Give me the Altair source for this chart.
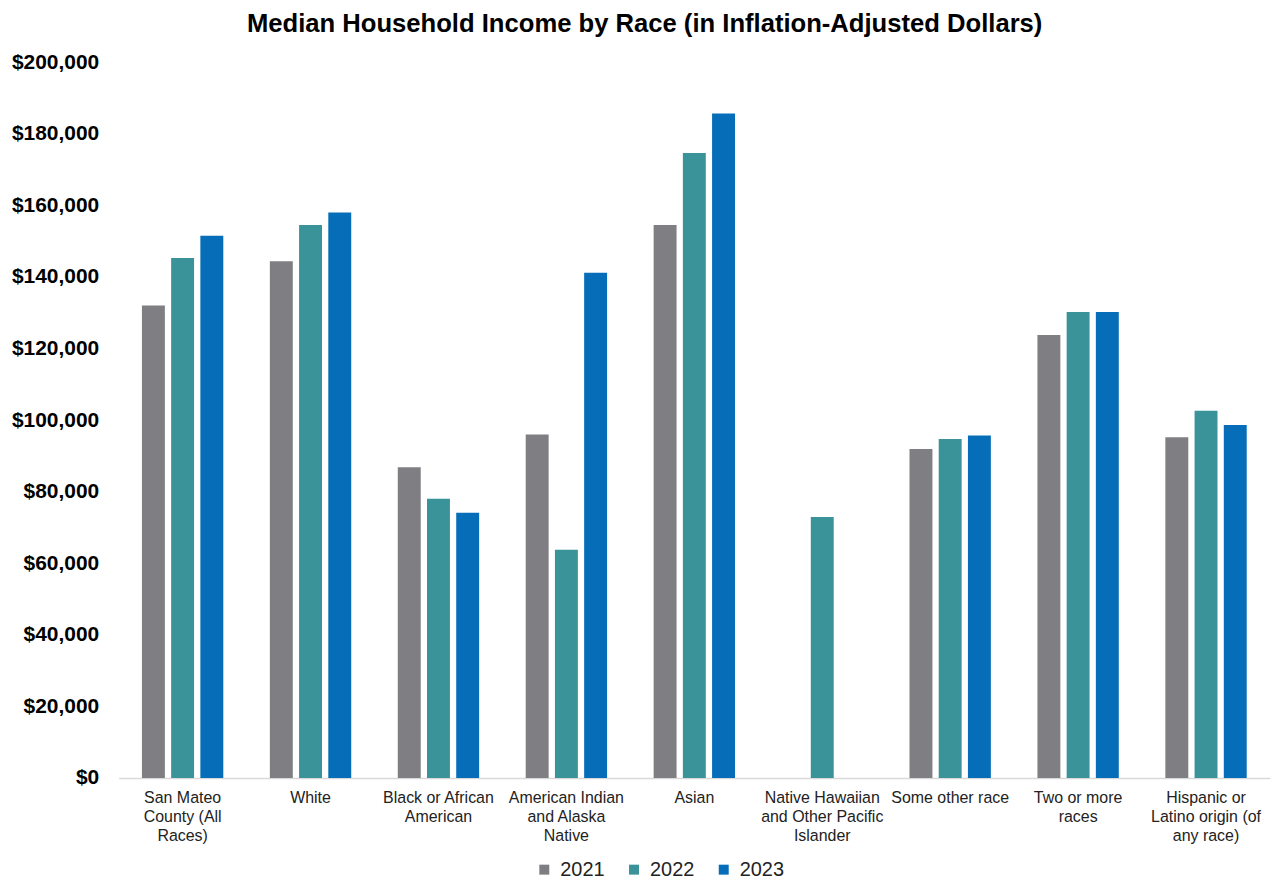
import altair as alt
import pandas as pd

categories = [
    "San Mateo County (All Races)",
    "White",
    "Black or African American",
    "American Indian and Alaska Native",
    "Asian",
    "Native Hawaiian and Other Pacific Islander",
    "Some other race",
    "Two or more races",
    "Hispanic or Latino origin (of any race)",
]
label_lines = [
    ["San Mateo", "County (All", "Races)"],
    ["White"],
    ["Black or African", "American"],
    ["American Indian", "and Alaska", "Native"],
    ["Asian"],
    ["Native Hawaiian", "and Other Pacific", "Islander"],
    ["Some other race"],
    ["Two or more", "races"],
    ["Hispanic or", "Latino origin (of", "any race)"],
]
years = ["2021", "2022", "2023"]
income_2021 = [132000, 144400, 86800, 96000, 154500, None, 91900, 123800, 95200]
income_2022 = [145300, 154500, 78000, 63800, 174600, 72900, 94700, 130200, 102600]
income_2023 = [151500, 158000, 74100, 141200, 185700, None, 95700, 130200, 98600]
colors = ["#7F7F83", "#3A9398", "#066EB8"]
y_ticks = list(range(0, 200001, 20000))

rows = []
for yr, vals in zip(years, [income_2021, income_2022, income_2023]):
    for c, v in zip(categories, vals):
        if v is not None:
            rows.append({"category": c, "year": yr, "income": v})
df = pd.DataFrame(rows)

expr = "''"
for c, lines in reversed(list(zip(categories, label_lines))):
    arr = "[" + ",".join("'" + l + "'" for l in lines) + "]"
    expr = f"datum.value == '{c}' ? {arr} : ({expr})"

FONT = "Liberation Sans"

chart = alt.Chart(df).mark_bar().encode(
    x=alt.X(
        "category:N",
        sort=categories,
        scale=alt.Scale(paddingInner=0.364, paddingOuter=0.182),
        axis=alt.Axis(
            title=None,
            labelAngle=0,
            labelExpr=expr,
            labelFont=FONT,
            labelFontSize=16,
            labelColor="#222222",
            labelLineHeight=19,
            labelPadding=12,
            labelBaseline="top",
            labelLimit=300,
            ticks=False,
            tickSize=0,
            domainColor="#D9D9D9",
            domainWidth=1.5,
        ),
    ),
    xOffset=alt.XOffset("year:N", sort=years, scale=alt.Scale(paddingInner=0.215, paddingOuter=0)),
    y=alt.Y(
        "income:Q",
        scale=alt.Scale(domain=[0, 200000], nice=False),
        axis=alt.Axis(
            title=None,
            values=y_ticks,
            format="$,.0f",
            grid=False,
            domain=False,
            ticks=False,
            tickSize=0,
            labelFont=FONT,
            labelFontSize=21,
            labelFontWeight="bold",
            labelColor="#000000",
            labelPadding=20,
        ),
    ),
    color=alt.Color(
        "year:N",
        sort=years,
        scale=alt.Scale(domain=years, range=colors),
        legend=alt.Legend(
            title=None,
            orient="none",
            direction="horizontal",
            legendX=417,
            legendY=800,
            symbolType="square",
            symbolSize=100,
            symbolStrokeWidth=0,
            labelFont=FONT,
            labelFontSize=20,
            labelColor="#222222",
            labelOffset=6,
            columnPadding=19,
            padding=0,
        ),
    ),
).properties(
    width=1155,
    height=718,
    autosize=alt.AutoSizeParams(type="none"),
    padding={"left": 111, "top": 53, "right": 1, "bottom": 103},
    title=alt.TitleParams(
        "Median Household Income by Race (in Inflation-Adjusted Dollars)",
        font=FONT,
        fontSize=25.7,
        fontWeight="bold",
        color="#000000",
        offset=14,
        anchor="middle",
        frame="bounds",
        dx=4,
    ),
).configure_view(stroke=None)

chart.save("out.html", embed_options={"renderer": "svg", "actions": False})
